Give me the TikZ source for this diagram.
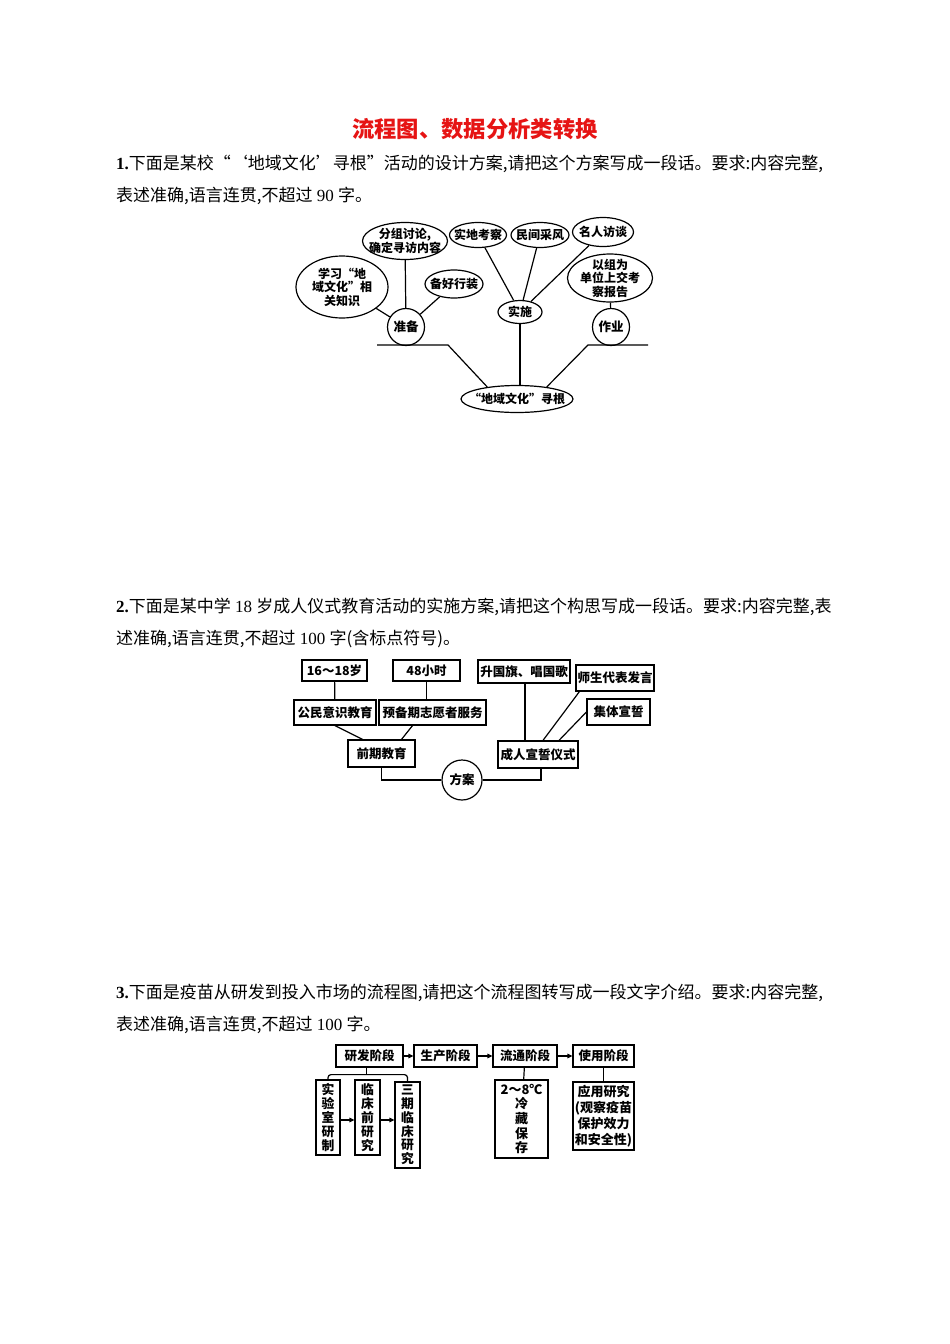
\documentclass[tikz,border=0pt]{standalone}
\usepackage{fontspec}
\setmainfont{Noto Sans CJK SC}
\newfontfamily\lat{Liberation Serif}
\usetikzlibrary{shapes.geometric,arrows.meta,calc}
\definecolor{titlered}{RGB}{230,20,20}
\begin{document}
\begin{tikzpicture}[x=1pt,y=-1pt,
  ln/.style={line width=1.2pt},
  ell/.style={draw, ellipse, line width=1.2pt, inner sep=0pt},
  elab/.style={inner sep=0pt, align=center, font=\fontsize{12}{13.5}\selectfont\bfseries},
  bx/.style={draw, rectangle, line width=1.2pt, inner sep=0pt, align=center, font=\fontsize{12.5}{14}\selectfont\bfseries},
  vbx/.style={bx, font=\fontsize{12.8}{13.8}\selectfont\bfseries},
  body/.style={anchor=west, inner sep=0pt, font=\fontsize{17}{18}\selectfont},
  arr/.style={ln, -{Triangle[length=5pt,width=4.5pt]}}
]
\useasboundingbox (0,0) rectangle (950,1344);
\fill[white] (0,0) rectangle (950,1344);

% ---------- title and texts ----------
\node[inner sep=0pt, text=titlered, font=\fontsize{22.3}{24}\selectfont\bfseries] (title) at (475,129) {流程图、数据分析类转换};
\node[body] (t1a) at (116,164) {{\lat\bfseries 1.}下面是某校“‘地域文化’寻根”活动的设计方案,请把这个方案写成一段话。要求:内容完整,};
\node[body] (t1b) at (116,196) {表述准确,语言连贯,不超过{\lat\ 90 }字。};
\node[body] (t2a) at (116,607) {{\lat\bfseries 2.}下面是某中学{\lat\ 18 }岁成人仪式教育活动的实施方案,请把这个构思写成一段话。要求:内容完整,表};
\node[body] (t2b) at (116,639) {述准确,语言连贯,不超过{\lat\ 100 }字(含标点符号)。};
\node[body] (t3a) at (116,993) {{\lat\bfseries 3.}下面是疫苗从研发到投入市场的流程图,请把这个流程图转写成一段文字介绍。要求:内容完整,};
\node[body] (t3b) at (116,1025) {表述准确,语言连贯,不超过{\lat\ 100 }字。};

% ---------- diagram 1 ----------
\node[ell, minimum width=92pt, minimum height=62pt, label={[elab]center:{学习“地\\域文化”相\\关知识}}] (xx) at (342,287) {};
\node[ell, minimum width=85pt, minimum height=37pt, label={[elab]center:{分组讨论,\\确定寻访内容}}] (fz) at (405,241) {};
\node[ell, minimum width=58pt, minimum height=28pt, label={[elab]center:{备好行装}}] (bh) at (454,284) {};
\node[draw, circle, ln, inner sep=0pt, minimum size=37pt, font=\fontsize{12.5}{14}\selectfont\bfseries] (zb) at (406,327) {准备};
\node[ell, minimum width=57pt, minimum height=25pt, label={[elab]center:{实地考察}}] (sd) at (478,235) {};
\node[ell, minimum width=58pt, minimum height=25pt, label={[elab]center:{民间采风}}] (mj) at (540,235) {};
\node[ell, minimum width=61pt, minimum height=29pt, label={[elab]center:{名人访谈}}] (mr) at (603,232) {};
\node[ell, minimum width=44pt, minimum height=23pt, label={[elab]center:{实施}}] (ss) at (520,312) {};
\node[ell, minimum width=85pt, minimum height=48pt, label={[elab]center:{以组为\\单位上交考\\察报告}}] (yz) at (610,278) {};
\node[draw, circle, ln, inner sep=0pt, minimum size=37pt, font=\fontsize{12.5}{14}\selectfont\bfseries] (zy) at (611,327) {作业};
\node[ell, minimum width=112pt, minimum height=27pt, label={[elab]center:{“地域文化”寻根}}] (root) at (517,399) {};

\coordinate (l1) at (377,345);
\coordinate (l2) at (448,345);
\coordinate (r1) at (588,345);
\coordinate (r2) at (648,345);
\draw[ln] (l1) -- (l2) -- (root.158);
\draw[ln] (r2) -- (r1) -- (root.22);
\draw[ln] (ss.south) -- (ss.south |- root.north);
\draw[ln] (xx) -- (zb);
\draw[ln] (fz) -- (zb);
\draw[ln] (bh) -- (zb);
\draw[ln] (sd) -- (ss);
\draw[ln] (mj) -- (ss);
\draw[ln] (mr) -- (ss);
\draw[ln] (yz) -- (zy);

% ---------- diagram 2 ----------
\node[bx, minimum width=65pt, minimum height=21pt] (a1) at (334.5,670.5) {16～18岁};
\node[bx, minimum width=67pt, minimum height=21pt] (a2) at (426.5,670.5) {48小时};
\node[bx, minimum width=92pt, minimum height=23pt] (a3) at (524,671.5) {升国旗、唱国歌};
\node[bx, minimum width=78pt, minimum height=26pt] (a4) at (615,678) {师生代表发言};
\node[bx, minimum width=63pt, minimum height=26pt] (a5) at (618.5,712) {集体宣誓};
\node[bx, minimum width=82pt, minimum height=25pt] (b1) at (335,712.5) {公民意识教育};
\node[bx, minimum width=107pt, minimum height=25pt] (b2) at (432.5,712.5) {预备期志愿者服务};
\node[bx, minimum width=67pt, minimum height=27pt] (qq) at (381.5,753.5) {前期教育};
\node[bx, minimum width=80pt, minimum height=27pt] (cr) at (538,754.5) {成人宣誓仪式};
\node[draw, circle, ln, inner sep=0pt, minimum size=40pt, font=\fontsize{12.5}{14}\selectfont\bfseries] (fa) at (462,780) {方案};

\draw[ln] (a1) -- (b1);
\draw[ln] (a2.south) -- (a2.south |- b2.north);
\draw[ln] (b1.south) -- ($(qq.north)+(-19,0)$);
\draw[ln] ($(b2.south)+(-20,0)$) -- ($(qq.north)+(20,0)$);
\draw[ln] (qq.south) |- (fa.west);
\draw[ln] (fa.east) -| ($(cr.south)+(3,0)$);
\draw[ln] (a3.south -| 525,0) -- (cr.north -| 525,0);
\draw[ln] ($(a4.south west)+(4,0)$) -- ($(cr.north)+(5,0)$);
\draw[ln] (a5.west) -- ($(cr.north)+(21,0)$);

% ---------- diagram 3 ----------
\node[bx, minimum width=67pt, minimum height=22pt] (s1) at (369.5,1056) {研发阶段};
\node[bx, minimum width=63pt, minimum height=22pt] (s2) at (445.5,1056) {生产阶段};
\node[bx, minimum width=64pt, minimum height=22pt] (s3) at (525,1056) {流通阶段};
\node[bx, minimum width=61pt, minimum height=22pt] (s4) at (603.5,1056) {使用阶段};
\draw[arr] (s1) -- (s2);
\draw[arr] (s2) -- (s3);
\draw[arr] (s3) -- (s4);

\node[vbx, minimum width=24pt, minimum height=75pt] (v1) at (328,1117.5) {实\\验\\室\\研\\制};
\node[vbx, minimum width=25pt, minimum height=75pt] (v2) at (367.5,1117.5) {临\\床\\前\\研\\究};
\node[vbx, minimum width=25pt, minimum height=86pt] (v3) at (407.5,1125) {三\\期\\临\\床\\研\\究};
\coordinate (bk) at ($(s1.south)+(-3,7)$);
\draw[ln, rounded corners=3pt] (v1.north) |- (bk) -| (v3.north);
\draw[ln] (bk) -- (s1.south -| bk);
\draw[arr] (v1.east |- 0,1120) -- (v2.west |- 0,1120);
\draw[arr] (v2.east |- 0,1120) -- (v3.west |- 0,1120);

\node[vbx, minimum width=53pt, minimum height=78pt, font=\fontsize{13}{14.6}\selectfont\bfseries] (w1) at (521.5,1119) {2～8℃\\冷\\藏\\保\\存};
\node[bx, font=\fontsize{13}{15.8}\selectfont\bfseries, minimum width=61pt, minimum height=68pt] (w2) at (603.5,1116) {应用研究\\(观察疫苗\\保护效力\\和安全性)};
\draw[ln] (s3) -- (w1);
\draw[ln] (s4) -- (w2);
\end{tikzpicture}
\end{document}
